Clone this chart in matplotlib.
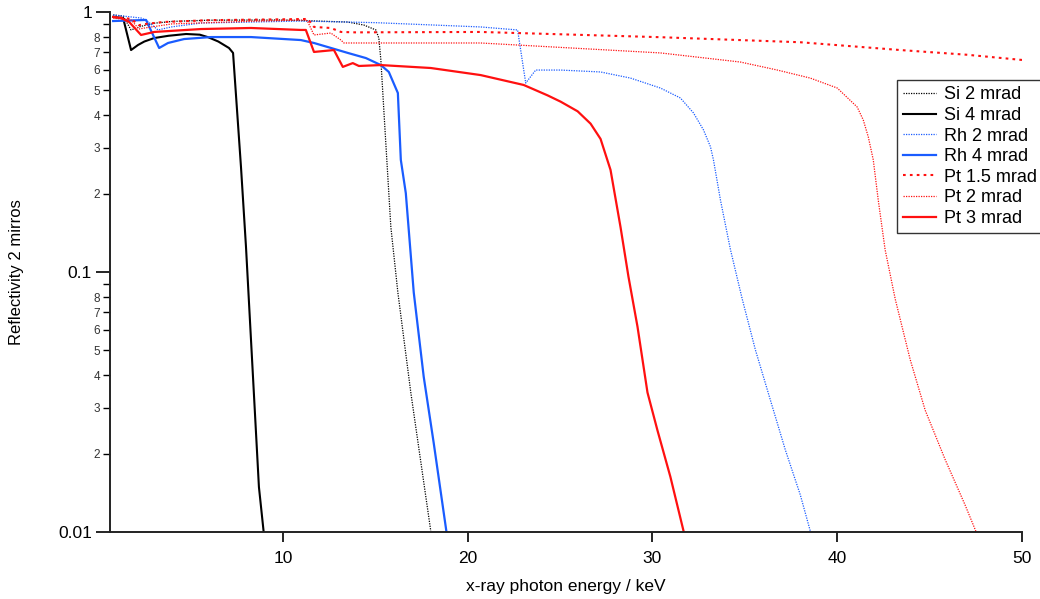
import matplotlib
matplotlib.use("Agg")
import matplotlib.pyplot as plt
from matplotlib.ticker import FixedLocator, FixedFormatter

plt.rcParams['font.family'] = ['Liberation Sans', 'DejaVu Sans']

# ---------------- data ----------------
si2_E = [0.81, 1.35, 1.78, 2.3, 3.0, 4.0, 6.0, 10.0, 13.5, 14.38, 15.03, 15.19, 15.30, 15.46, 15.84, 16.22, 16.92, 18.0]
si2_R = [0.974, 0.965, 0.853, 0.88, 0.905, 0.92, 0.93, 0.932, 0.915, 0.891, 0.853, 0.794, 0.654, 0.420, 0.149, 0.0834, 0.0344, 0.0101]

si4_E = [0.81, 1.35, 1.78, 2.16, 2.5, 3.03, 3.8, 4.76, 5.5, 5.95, 6.5, 7.08, 7.30, 7.73, 8.0, 8.70, 8.97]
si4_R = [0.957, 0.948, 0.714, 0.747, 0.77, 0.794, 0.81, 0.823, 0.818, 0.80, 0.77, 0.727, 0.696, 0.253, 0.125, 0.0149, 0.0098]

rh2_E = [0.81, 2.32, 2.6, 3.24, 3.95, 5.57, 10.97, 15.0, 20.70, 22.70, 23.14, 23.68, 25.03, 27.19, 28.81, 30.43, 31.51, 32.22, 32.76, 33.14, 33.30,
         33.68, 34.22, 34.86, 35.57, 36.38, 37.19, 38.0, 38.59]
rh2_R = [0.974, 0.948, 0.93, 0.853, 0.876, 0.907, 0.923, 0.91, 0.876, 0.853, 0.533, 0.598, 0.598, 0.588, 0.557, 0.510, 0.467, 0.409, 0.352, 0.303, 0.270,
         0.189, 0.122, 0.0786, 0.0502, 0.0322, 0.0207, 0.0139, 0.0098]

rh4_E = [0.81, 2.59, 3.30, 3.78, 4.65, 6.11, 8.27, 10.97, 11.68, 13.51, 14.49, 15.30, 15.73, 16.22, 16.38, 16.65, 17.08, 17.62, 18.16, 18.86]
rh4_R = [0.923, 0.932, 0.727, 0.760, 0.787, 0.801, 0.801, 0.780, 0.760, 0.696, 0.665, 0.625, 0.588, 0.488, 0.270, 0.201, 0.0834, 0.0395, 0.0220, 0.0099]

pt15_E = [0.81, 1.8, 2.2, 2.6, 3.5, 6.0, 11.35, 11.68, 12.59, 13.14, 13.9, 20.70, 30.43, 38.0, 43.41, 47.0, 50.0]
pt15_R = [0.957, 0.94, 0.89, 0.90, 0.915, 0.93, 0.94, 0.876, 0.868, 0.838, 0.835, 0.838, 0.80, 0.765, 0.714, 0.685, 0.654]

pt2_E = [0.81, 1.8, 2.2, 2.6, 4.0, 8.0, 11.24, 11.35, 11.68, 12.59, 13.14, 13.3, 20.70, 30.43, 34.76, 36.76, 38.54, 40.0, 41.08, 41.41, 41.68, 41.95,
         42.22, 42.59, 43.14, 43.95, 44.76, 45.84, 46.92, 47.57]
pt2_R = [0.948, 0.93, 0.86, 0.87, 0.90, 0.92, 0.932, 0.915, 0.816, 0.830, 0.78, 0.760, 0.760, 0.696, 0.642, 0.598, 0.557, 0.510, 0.431, 0.384, 0.331, 0.270,
         0.189, 0.122, 0.0786, 0.046, 0.0294, 0.019, 0.0127, 0.0098]

pt3_E = [0.81, 1.24, 1.68, 2.32, 3.03, 5.57, 8.27, 10.97, 11.24, 11.68, 12.76, 13.24, 13.78, 14.11, 15.30, 18.0, 20.70, 23.03, 24.32, 25.03, 25.95, 26.65,
         27.19, 27.73, 28.27, 28.70, 29.19, 29.73, 30.27, 30.97, 31.68]
pt3_R = [0.957, 0.948, 0.915, 0.816, 0.838, 0.860, 0.868, 0.853, 0.853, 0.702, 0.714, 0.615, 0.636, 0.620, 0.625, 0.609, 0.572, 0.524, 0.478, 0.452, 0.415, 0.372,
         0.325, 0.247, 0.149, 0.096, 0.0616, 0.0344, 0.0246, 0.0163, 0.0101]

x_ticks = [10, 20, 30, 40, 50]
y_major = [0.01, 0.1, 1]
y_major_labels = ["0.01", "0.1", "1"]
x_label = "x-ray photon energy / keV"
y_label = "Reflectivity 2 mirros"

# ---------------- figure ----------------
fig = plt.figure(figsize=(10.4, 5.99), dpi=100)
ax = fig.add_axes([110/1040, 1 - 532/599, (1022 - 110)/1040, (532 - 12)/599])

blue = '#1a5cff'
red = '#ff1010'
ax.plot(si2_E, si2_R, color='black', lw=0.9, ls=(0, (1, 1)), label='Si 2 mrad')
ax.plot(si4_E, si4_R, color='black', lw=1.5, ls='-', label='Si 4 mrad')
ax.plot(rh2_E, rh2_R, color=blue, lw=0.9, ls=(0, (1, 1)), label='Rh 2 mrad')
ax.plot(rh4_E, rh4_R, color=blue, lw=1.6, ls='-', label='Rh 4 mrad')
ax.plot(pt15_E, pt15_R, color=red, lw=1.5, ls=(0, (1.3, 2)), label='Pt 1.5 mrad')
ax.plot(pt2_E, pt2_R, color=red, lw=0.9, ls=(0, (1, 1)), label='Pt 2 mrad')
ax.plot(pt3_E, pt3_R, color=red, lw=1.6, ls='-', label='Pt 3 mrad')

ax.set_yscale('log')
ax.set_xlim(0.64, 50)
ax.set_ylim(0.01, 1)

for s in ['top', 'right']:
    ax.spines[s].set_visible(False)
for s in ['left', 'bottom']:
    ax.spines[s].set_linewidth(1.4)
    ax.spines[s].set_color('#222222')

ax.set_xticks(x_ticks)
ax.set_xticklabels([str(t) for t in x_ticks])
ax.tick_params(axis='x', which='major', direction='out', length=7, width=1.2, labelsize=12.5, pad=7)
ax.tick_params(axis='x', which='minor', bottom=False)

ax.yaxis.set_major_locator(FixedLocator(y_major))
ax.yaxis.set_major_formatter(FixedFormatter(y_major_labels))
minor_vals = []
minor_labels = []
for dec in [0.01, 0.1]:
    for m in range(2, 10):
        minor_vals.append(m * dec)
        minor_labels.append(str(m) if m < 9 else "")
ax.yaxis.set_minor_locator(FixedLocator(minor_vals))
ax.yaxis.set_minor_formatter(FixedFormatter(minor_labels))
ax.tick_params(axis='y', which='major', direction='out', length=10, width=1.2, labelsize=12.5, pad=3)
ax.tick_params(axis='y', which='minor', direction='out', length=5, width=1.0, labelsize=8.5, pad=2, labelcolor='#333333')

ax.set_xlabel(x_label, fontsize=12.5)
ax.xaxis.set_label_coords(0.5, -(579 - 532) / 520)
ax.set_ylabel(y_label, fontsize=12)
ax.yaxis.label.set_verticalalignment('center')
ax.yaxis.set_label_coords((17 - 110) / 912, 0.5)

leg = ax.legend(loc='upper left', bbox_to_anchor=(897/1040, 1 - 80/599), bbox_transform=fig.transFigure,
                borderaxespad=0, fontsize=13, frameon=True, fancybox=False, edgecolor='black',
                handlelength=1.8, handletextpad=0.45, labelspacing=0.2, borderpad=0.35)
leg.get_frame().set_linewidth(1.0)

fig.savefig('out.png', dpi=100)
